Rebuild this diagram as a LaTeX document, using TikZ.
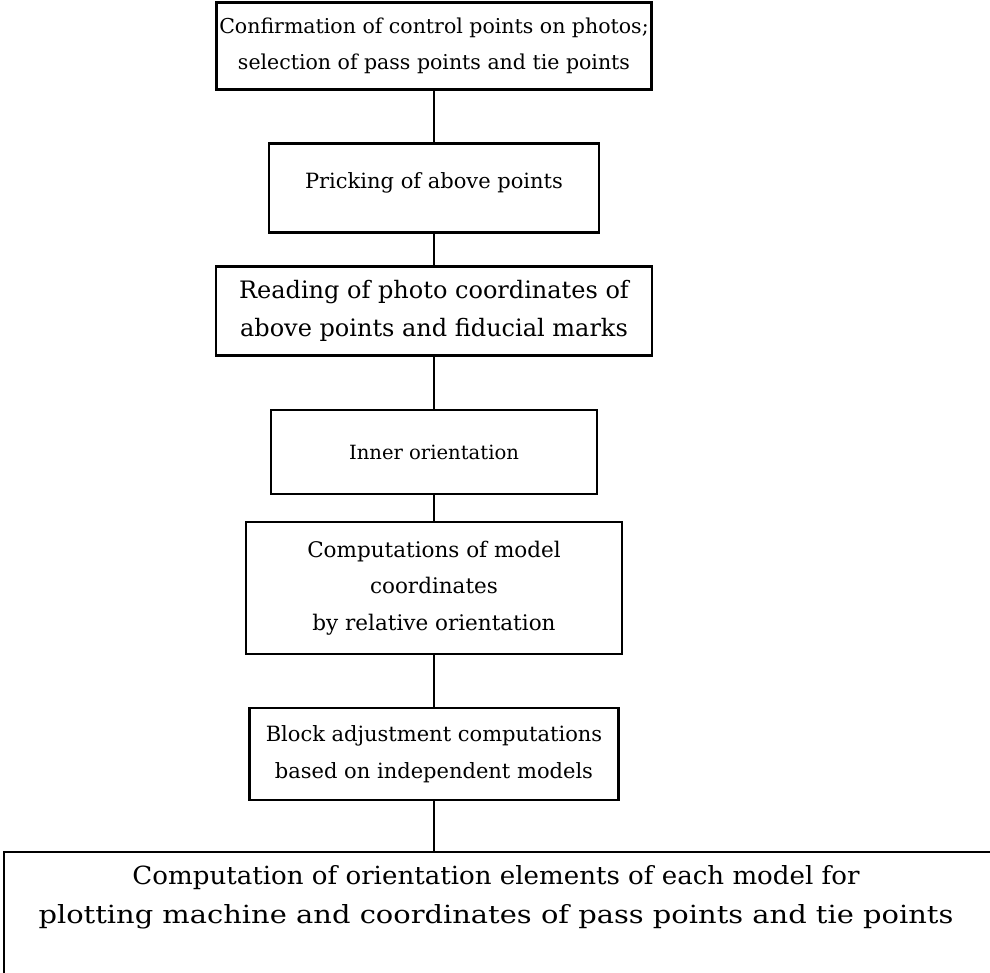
\documentclass[tikz,border=0pt]{standalone}
\usepackage{graphicx}
\usepackage{fontspec}
\setmainfont{DejaVu Serif}
\newcommand\fw[2]{\resizebox{#1pt}{\height}{#2}}
\newcommand\fsz[2]{\fontsize{#1}{#2}\selectfont}
\begin{document}
\begin{tikzpicture}[x=1pt,y=1pt,
  box/.style={draw, line width=2.1pt, align=center, inner sep=0pt},
  txt/.style={align=center, inner sep=0pt},
  link/.style={line width=2.1pt}]
\useasboundingbox (0,0) rectangle (990,-972);
\clip (0,0) rectangle (990,-972);
\node[box, font=\fsz{20.5}{36}, minimum width=435, minimum height=87] (b1) at (434,-46) {Confirmation of control points on photos;\\selection of pass points and tie points};
\node[box, font=\fsz{21}{36}, minimum width=330, minimum height=89] (b2) at (434,-188) {Pricking of above points\rule[-15pt]{0pt}{0pt}};
\node[box, font=\fsz{24}{38}, minimum width=436, minimum height=89] (b3) at (434,-311) {Reading of photo coordinates of\\above points and fiducial marks};
\node[box, font=\fsz{19.6}{36}, minimum width=326, minimum height=84] (b4) at (434,-452) {Inner orientation};
\node[box, font=\fsz{21.5}{36.5}, minimum width=376, minimum height=132] (b5) at (434,-588) {Computations of model\\coordinates\\by relative orientation};
\node[box, font=\fsz{21}{37}, minimum width=369, minimum height=92] (b6) at (434,-754) {Block adjustment computations\\based on independent models};
\node[draw, line width=2.1pt, anchor=north west, minimum width=1000, minimum height=160, inner sep=0pt] (b7) at (3,-851) {};
\node[txt, font=\fsz{25}{39}] (t7) at (496,-897) {\fw{727}{Computation of orientation elements of each model for}\\\fw{915}{plotting machine and coordinates of pass points and tie points}};
\draw[link] (b1.south) -- (b2.north);
\draw[link] (b2.south) -- (b3.north);
\draw[link] (b3.south) -- (b4.north);
\draw[link] (b4.south) -- (b5.north);
\draw[link] (b5.south) -- (b6.north);
\draw[link] (b6.south) -- (b6.south |- b7.north);
\end{tikzpicture}
\end{document}
